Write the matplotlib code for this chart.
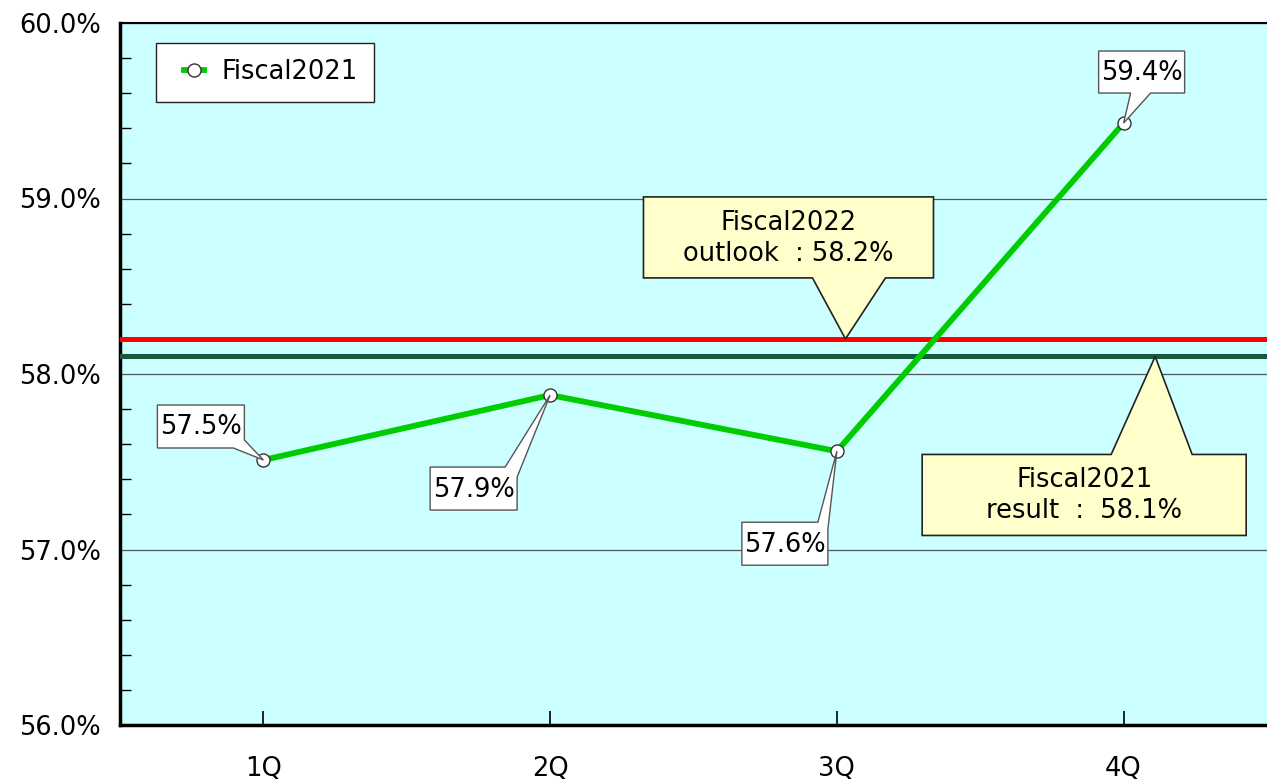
import matplotlib.pyplot as plt
import matplotlib.transforms as mtransforms
from matplotlib.patches import Polygon
from matplotlib.ticker import MultipleLocator, FuncFormatter
from matplotlib.legend_handler import HandlerLine2D

quarters = ['1Q', '2Q', '3Q', '4Q']
ratio_2021 = [57.51, 57.88, 57.56, 59.43]
outlook_2022 = 58.2
result_2021 = 58.1

bg = '#CCFFFF'
green = '#00CC00'
dark_green = '#155A3C'
fs = 18.5

fig = plt.figure(figsize=(12.67, 7.82), dpi=100)
ax = fig.add_axes([120 / 1267, 1 - 725 / 782, 1 - 120 / 1267, (725 - 23) / 782])
ax.set_facecolor(bg)

x = list(range(1, len(quarters) + 1))

ax.axhline(outlook_2022, color='#FF0000', lw=3.6, zorder=3)
ax.axhline(result_2021, color=dark_green, lw=3.6, zorder=3)

ax.plot(x, ratio_2021, color=green, lw=4.2, marker='o', markersize=9.4,
        markerfacecolor='white', markeredgecolor='#333333', markeredgewidth=1,
        label='Fiscal2021', zorder=4)

ax.set_xlim(0.5, 4.5)
ax.set_ylim(56, 60)
ax.set_xticks(x)
ax.set_xticklabels(quarters, fontsize=fs)
ax.yaxis.set_major_locator(MultipleLocator(1))
ax.yaxis.set_minor_locator(MultipleLocator(0.2))
ax.yaxis.set_major_formatter(FuncFormatter(lambda v, p: f'{v:.1f}%'))
ax.tick_params(axis='y', which='major', labelsize=fs, direction='in', length=0, pad=14)
ax.tick_params(axis='y', which='minor', direction='in', length=8, width=1)
ax.tick_params(axis='x', direction='in', length=10, width=1.2, pad=22)
ax.grid(axis='y', which='major', color='#555555', lw=0.9, zorder=1)

for side in ['left', 'bottom']:
    ax.spines[side].set_linewidth(2.5)
ax.spines['top'].set_linewidth(1.5)
ax.spines['right'].set_visible(False)


def bubble(xd, yd, text, verts, fc, ec, lw):
    # verts are pixel offsets from the point (xd, yd), the pointer tip is (0, 0)
    trans = mtransforms.Affine2D() + mtransforms.ScaledTranslation(xd, yd, ax.transData)
    ax.add_patch(Polygon(verts, closed=True, transform=trans, fc=fc, ec=ec, lw=lw,
                         joinstyle='miter', zorder=6, clip_on=False))
    box = [p for p in verts if p != (0, 0)]
    xs = [p[0] for p in box]
    ys = [p[1] for p in box]
    cx = (min(xs) + max(xs)) / 2
    cy = (min(ys) + max(ys)) / 2 - 1
    ax.text(cx, cy, text, transform=trans, ha='center', va='center',
            fontsize=fs, multialignment='center', zorder=7, linespacing=1.25)


# data labels
label_shapes = [
    [(-106, 55), (-19, 55), (-19, 20), (0, 0), (-30, 12), (-106, 12)],
    [(-120, -72), (-45, -72), (0, 0), (-33, -82), (-33, -115), (-120, -115)],
    [(-95, -71), (-19, -71), (0, 0), (-9, -78), (-9, -114), (-95, -114)],
    [(-25, 72), (61, 72), (61, 30), (27, 30), (0, 0), (7, 30), (-25, 30)],
]
for xi, v, shape in zip(x, ratio_2021, label_shapes):
    bubble(xi, v, f'{v:.1f}%', shape, 'white', '#555555', 1)

# target callouts
bubble(3.03, outlook_2022, 'Fiscal2022\noutlook  : 58.2%',
       [(-202, 142), (88, 142), (88, 61), (40, 61), (0, 0), (-33, 61), (-202, 61)],
       '#FFFFCC', '#222222', 1.2)
bubble(4.11, result_2021, 'Fiscal2021\nresult  :  58.1%',
       [(-233, -98), (-44, -98), (0, 0), (37, -98), (91, -98), (91, -179), (-233, -179)],
       '#FFFFCC', '#222222', 1.2)

leg = ax.legend(loc='upper left', bbox_to_anchor=(0.031, 0.9715), borderaxespad=0,
                fontsize=fs, frameon=True, fancybox=False, framealpha=1,
                edgecolor='#222222', handlelength=1.25, handletextpad=0.68, borderpad=0.64,
                handler_map={ax.lines[-1]: HandlerLine2D(xpad=0.47)})
leg.get_frame().set_linewidth(1)
leg.set_zorder(8)

fig.savefig('out.png', dpi=100)
